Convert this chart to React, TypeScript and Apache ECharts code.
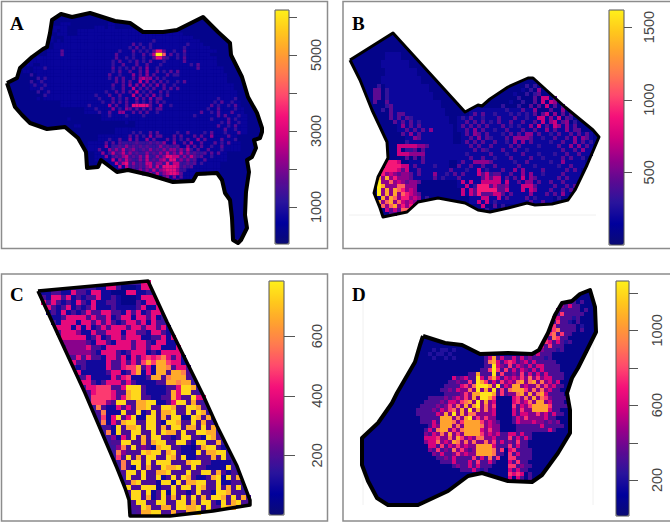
import React, { useEffect, useRef } from "react";
import * as echarts from "echarts";

const RAMP = ["#0b0b74", "#00009c", "#2a149c", "#5c0a92", "#96008a", "#d0007e", "#f4107a", "#ff4a6c", "#ff7a50", "#ffa030", "#ffc81c", "#fff01a"];

const OUTLINE_A = [[7,83],[17,78],[20,68],[32,57],[43,49],[47,47],[50,33],[52,20],[61,14],[72,17],[90,13],[115,21],[130,23],[143,32],[163,32],[177,30],[203,17],[218,32],[230,43],[231,55],[242,77],[248,97],[257,113],[262,128],[262,132],[260,138],[254,140],[256,148],[252,157],[247,160],[249,172],[246,192],[245,215],[247,228],[241,240],[238,243],[233,240],[232,218],[230,200],[225,193],[222,180],[217,173],[197,174],[193,181],[173,182],[150,175],[128,170],[117,172],[101,160],[98,167],[87,168],[86,152],[78,138],[65,127],[47,129],[30,123],[22,115],[15,107]];
const OUTLINE_B = [[350,60],[393,33],[465,112],[478,105],[482,106],[490,99],[508,87],[528,78],[533,78],[565,107],[593,130],[599,137],[587,165],[575,190],[568,200],[552,204],[535,205],[527,203],[508,208],[490,212],[478,210],[465,203],[438,198],[418,202],[407,212],[383,217],[380,208],[374,193],[378,177],[388,158],[387,142],[380,127],[372,110],[360,80]];
const OUTLINE_C = [[38,291],[148,281],[167,322],[203,395],[217,426],[237,466],[250,500],[250,505],[213,511],[170,516],[130,516],[129,500],[125,488],[117,468],[85,393]];
const OUTLINE_D = [[423,336],[445,343],[462,345],[480,354],[508,353],[532,354],[539,350],[548,333],[555,315],[562,303],[572,301],[580,294],[590,290],[595,307],[596,332],[588,348],[578,368],[572,378],[567,393],[570,410],[570,433],[558,453],[542,475],[532,482],[508,481],[482,473],[468,476],[448,491],[418,505],[388,505],[377,498],[368,481],[362,465],[362,438],[378,423],[392,403],[397,393],[415,362],[420,345]];

const LEVELS_A = [0, 700, 1300, 1700, 2200, 2700, 3200, 4000, 5000, 6100];
const LEVELS_B = [0, 190, 320, 440, 570, 720, 900, 1100, 1350, 1600];
const LEVELS_C = [0, 40, 100, 190, 270, 400, 480, 580, 660, 740];
const LEVELS_D = [0, 110, 210, 310, 430, 600, 760, 900, 1040, 1230];

const TICKS_A = [1000, 2000, 3000, 4000, 5000, 6000];
const LABELS_A = [1000, 3000, 5000];
const TICKS_B = [500, 1000, 1500];
const LABELS_B = [500, 1000, 1500];
const TICKS_C = [200, 400, 600];
const LABELS_C = [200, 400, 600];
const TICKS_D = [200, 400, 600, 800, 1000, 1200];
const LABELS_D = [200, 600, 1000];

// broad patches: first row, last row, first column, last column, level
const PATCHES_A = [[5,6,21,50,1],[7,8,17,54,1],[9,10,14,57,1],[11,12,12,59,1],[13,15,10,61,1],[16,17,8,63,1],[18,20,9,64,1],[21,22,7,66,1],[23,25,11,67,1],[26,27,16,68,1],[28,29,23,69,1],[30,31,28,70,1],[32,33,38,70,1],[34,35,32,70,1],[36,37,27,67,1],[38,40,24,68,1],[41,43,26,64,1],[44,46,30,62,1],[47,49,40,58,1],
[38,38,34,46,2],[39,39,31,50,2],[40,40,30,54,2],[41,41,30,57,2],[42,42,31,56,2],[43,43,33,55,2],[44,44,33,54,2],[45,45,35,53,2],[46,46,38,52,2],[47,47,42,51,2]];
const PATCHES_B = [[5,6,9,12,1],[7,8,8,14,1],[9,10,9,16,1],[11,12,8,17,1],[13,14,9,19,1],[15,16,10,20,1],[17,18,10,22,1],[19,20,11,23,1],[21,22,11,24,1],[23,24,12,25,1],[25,27,14,25,1],[28,31,18,27,1],[32,36,15,24,1],
[19,20,30,46,1],[21,22,27,52,1],[23,24,27,56,1],[25,27,28,60,1],[28,30,28,60,1],[31,33,27,58,1],[34,36,25,57,1],[37,38,27,56,1],[39,40,28,54,1],[41,42,30,50,1],
[33,34,8,13,3],[35,36,7,15,4],[37,40,7,16,4],[41,43,8,17,4],[44,45,10,16,3],[35,37,33,37,3],[38,40,31,38,3]];
const PATCHES_C: number[][] = [];
const PATCHES_D = [[4,4,49,53,3],[5,6,48,54,3],[7,7,47,53,3],[8,8,47,52,3],[9,9,46,53,3],[10,10,46,52,3],[11,11,45,52,3],[12,12,44,51,3],[13,13,44,52,3],[14,15,43,50,3],[16,16,42,47,3],
[17,17,31,47,3],[18,18,31,48,3],[19,19,31,49,3],[20,20,30,49,3],[21,21,27,50,3],[22,22,23,50,3],[23,23,22,49,3],[24,24,21,50,3],[25,25,20,49,3],[26,26,21,50,3],
[27,27,18,33,3],[27,27,38,51,3],[28,28,16,33,3],[28,28,38,50,3],[29,29,15,33,3],[29,29,38,51,3],[30,30,14,33,3],[30,30,38,49,3],[31,31,14,33,3],[31,31,38,50,3],[32,32,15,33,3],[32,32,38,48,3],[33,33,15,33,3],[33,33,38,49,3],[34,34,17,34,3],[34,34,39,50,3],[35,35,16,33,3],[35,35,39,48,3],
[36,37,16,42,3],[38,38,16,41,3],[39,39,17,41,3],[40,40,17,35,3],[40,40,37,42,3],[41,41,18,35,3],[41,41,37,42,3],[42,42,19,34,3],[42,42,37,42,3],[43,43,20,33,3],[43,43,37,41,3],[44,44,23,32,3],[44,44,37,42,3],[45,45,25,31,3],[45,45,37,41,3],
[24,24,27,33,4],[25,26,25,33,4],[27,28,23,33,4],[29,30,21,33,4],[31,33,20,33,4],[34,36,19,34,4],[37,38,20,33,4],[39,41,23,32,4],[22,24,36,47,4],[25,26,37,46,4],[27,30,40,47,4],[31,33,40,45,4]];

const ROWS_A = [
"","","",
"16:111 30:11",
"14:1111 26:111.11",
"13:11.11 28:1111",
"15:111 24:111 40:111 50:11",
"12:11 20:11.1 34:1111 44:11 52:111",
"13:1.1 24:111 36:11 43:2 47:111 55:11",
"11:11 20:1.1 29:11 37:3.2 42:2 45:11 53:2",
"9:11 22:11 31:1 36:2.3 40:2.2 46:1.1 52:2 58:11",
"16:3 24:11 33:2 37:3.2.2 43:3663 49:2 52:3 60:11",
"16:3 20:11 32:3 37:2 40:3.2 43:5997 48:3.2 52:2 57:11",
"9:11 25:1 32:3 35:2.2 40:2 43:3663 47:2 50:2.3 59:1",
"7:111 14:11 31:2.3 36:2.3.2 42:3 46:2 52:3 56:11",
"6:11 18:11 31:2 34:3 38:3..3 45:2 54:2.3 60:11",
"11:2 22:1 31:3.2 35:2.3.3 41:4 44:2 56:3 58:11",
"5:11 31:2.3 36:3 39:3.4 44:3.2 48:3.3 60:111",
"7:2 16:11 30:3 33:2 37:4.3 41:4 43:3 47:3.2 50:2",
"9:2.2 24:1 30:2.3 34:3 37:3.4 40:544 44:3 46:2 62:11",
"7:2 10:2 28:1 32:3.3 36:3 39:5.4 43:3.3 47:2 50:2.3",
"8:2 11:2 31:3 34:3.4 38:4.4.3 44:4 46:3 49:2 64:1",
"10:2 20:1 31:2 34:3 37:5 39:3.3 43:3 46:3.3 50:3",
"9:2 12:2 29:2 32:3.3 36:3.5 40:2 42:3 45:3 47:2 66:1",
"11:2 26:2 30:3 33:3 37:5.3 41:3.4 45:2.3",
"9:1 27:2 31:3.2.3 38:4 40:3.4.3 45:3 62:2 67:2",
"22:1 28:2 31:3.3.3 38:3 40:2.3 44:3.2 61:2.3 66:2",
"24:2 30:4.3 35:3 37:66666 42:3 45:4 48:2 60:3.2 65:2.3",
"26:2 31:4.2.4 36:3.3 40:3.3.3 45:3 59:2 62:3 67:2",
"27:2 30:3 33:44 37:3.3.3 44:2 57:3 60:2.3 66:3",
"30:2 35:2 40:2 55:2 62:3.3 68:2",
"18:1 45:1 60:2 65:3.2",
"35:1 50:11 63:2.3 68:2",
"20:11 55:1 62:3 65:2.3",
"40:11 64:3 67:2",
"37:2.2 42:3.3 50:2 53:3 58:2.3 64:2 68:3",
"36:3.3 40:2.4.3 45:3 49:3.3 55:3.3 60:4 65:3",
"30:2 33:3 36:4.3 41:4.3 47:3 49:3.2 53:3 56:4.3 63:3 67:2",
"29:3.3 33:3 38:3 42:3 44:3.4 49:4 52:3.4 57:3 61:3.2 65:3",
"29:4 31:2.3 35:4.3.3 41:3 45:4.3 50:3 53:4 55:3.3 60:2 63:3",
"27:3 30:4.4 34:5.3 37:4 40:3.4 44:3.4.4 49:4.4 53:5 56:3 59:3 63:2",
"28:4 31:5.3 34:5.4 38:3 41:4.3 45:4 47:5.4 51:5 53:4.3 58:3.3 62:3",
"29:4 32:3.4 35:5.3.4 41:5 44:4.4 47:6655 52:4.5 55:3.3 60:2",
"31:5 33:4.5 36:3 39:4.5 43:3.4 46:5.6 49:6 51:4 53:4.3 58:3",
"32:5.5 35:6.4 39:3.5 42:5.4 45:4 47:6.5 50:5 53:3.3 57:2",
"33:5 35:5 37:3.3.4 42:5.5 46:6666 50:5.3 54:3",
"37:3 39:4.4 43:5.4 46:5666 50:4 52:2",
"40:3 42:4 44:5.4 47:5665 51:3",
"44:3.3 47:4.4.3",
"48:2 50:3",
"","","","","","","","","","","","","","","","","",
"68:5",
];

const ROWS_B = [
"","","","","",
"10:1.1",
"9:111",
"8:1.11 12:1",
"9:1111",
"10:11.11",
"9:111.1 14:1",
"9:1.111 15:1",
"8:11 11:111 15:11",
"7:2.1 10:111 14:111 44:2 46:2",
"6:33 9:2 11:11 15:1.1 43:1 45:2 47:4",
"6:33 9:2 11:1.1 16:11 41:1 44:2.2 47:3",
"6:33 9:2.1 13:11 17:1 42:2 46:3 48:55 51:3",
"6:3 9:3 11:111 16:11 40:1 43:2 46:3 48:5.5 51:4 53:2",
"9:2 10:3 12:1 14:11 18:1 38:2 42:2 45:3.3 49:5 51:3.3",
"8:2 10:3 13:1.1 17:11 36:1 39:2 43:3 46:4 50:3 53:4.3",
"10:3.3 13:3 15:1 18:1 31:3.3 36:2 40:2.2 44:2 46:3.3 49:5.4 53:3.3",
"10:3 12:3.3 15:2 28:2 30:3 33:2 37:3 41:3 44:2 47:55 50:4 52:5.3 55:2",
"11:3 13:3 15:3 17:2 29:3 31:3.3 35:2.3 40:3 43:3 46:3 48:5.4 51:5.3 54:4 56:2",
"13:4 15:3 17:3 28:3.3 32:3 34:3 38:3.2 42:2 45:4 47:5 49:3.5 52:4.4 56:3",
"14:3 16:3 18:3.4 29:3 31:4 33:3 36:2 39:3 43:3 46:3 49:4 51:3 54:4.3 57:3",
"13:3 15:4 17:3 29:3.4 32:3 34:3 38:2 40:3 42:3 44:44 47:3 50:2 52:3 55:3.3 59:3",
"16:43 30:3 32:4.3 35:2 39:3 41:4444 45:3 48:2 51:3 54:3 56:4.4 59:3",
"14:2 29:3.3.3 36:3 39:2 41:4.4 45:3 50:2 53:3 56:4 58:3 60:2",
"12:55555 17:44 19:3 30:3 32:3 35:3 40:3 42:3 47:2 52:3 55:4.4 59:3",
"12:5 14:2 15:2 16:3 18:3 20:1 31:3.3 34:2 38:3 41:3 44:2 53:3 56:3 58:4",
"12:555 15:44 17:44 22:1 29:2 35:3 39:2 43:3 47:2 51:2 54:3 57:3",
"14:3 16:3 18:3 21:1 30:3 33:3 36:2 40:3 45:3 48:2 53:3.3 58:2",
"9:666 12:5 18:3 28:3 31:4444 35:3 41:2 44:3 50:2 53:4",
"9:6666 13:55 16:3 21:2 27:3 30:3 33:3 36:3 42:3 46:2 52:2 55:3",
"8:66 10:66 12:5 14:5 17:3 25:3 29:2 32:5 34:2 38:3 41:4 43:4 48:3 54:3 56:3",
"8:6 10:5 12:3 15:3 17:3 21:4 24:2 26:3.3 32:5.5 35:2 40:3 43:4.4 48:2 53:3",
"7:8 9:8.6 13:4 15:3 21:3 23:2 27:3 34:5.5 37:5 39:3.3 43:5.4 46:3 52:3.3",
"7:9 10:7 12:5 14:3 17:3 28:5.5 33:5555 37:5.5 42:3 44:44 47:3 50:3 53:3",
"7:98 12:77 15:4 29:5 31:2 32:666 36:5 39:4 43:5555 46:3 51:3 54:3.3",
"7:9 9:8 11:876 15:5 28:5 30:5 32:66666 37:3 39:5 43:5.5 46:4 50:3 53:3.3",
"7:9 9:8 11:8.7 14:65 17:3 28:5 30:5 32:6 34:3 36:55 40:3 45:4 49:3 51:3 53:4",
"8:8 10:87 13:66 16:5 19:2 33:55 37:5 39:3 44:3 46:2 52:2",
"7:8 9:78 12:75 15:5 18:4 32:5.5 36:2 45:3 48:3",
"8:7 10:78 13:6 15:6 17:4 33:5 36:3 38:2",
"9:5 11:5 13:77 16:5 18:3 34:2",
"10:3 12:8888 16:53",
"12:553",
];

const ROWS_C = [
"21:55",
"12:2255 17:111 20:2 21:55",
"1:223322533255221115522",
"1:325535232335223211125552",
"1:535323253252233211132552",
"2:53235232352223222235225",
"2:23252323533553325352355",
"3:2235555353352355255352",
"3:3255525535353235535253",
"4:55525252353555355355352",
"4:35554225335552553325532",
"5:555552352355355522335252",
"5:444443255325553553255225",
"6:44445332555553553552225",
"6:44444325553235552325555",
"7:35353325535253565675352",
"7:53322225335353686886552",
"8:23222253356683528873553",
"8:52222235523682528838873",
"9:3522225356222388378883",
"9:5532355535322223388788",
"10:5566633599932222335998",
"10:3566653389932222385993",
"11:66665358993322338533955",
"11:6664399338899223599383",
"12:7322535388933998339983",
"12:3722293392393889339398",
"13:6259359229938399229838",
"13:7253899339932998339383",
"14:3293889399383993883938",
"14:7293399339398839339988",
"15:4253938399332399332983",
"15:3399338389933993299338",
"16:4739343289933221389932",
"16:7433398993893222938899",
"16:6393839933983922333839",
"17:7399393999333899332222",
"17:7329383398893393322229",
"17:39939338893339339938323",
"18:93393392393983223892938",
"18:38933329929388993392233",
"18:93399923393993983393839",
"18:39939239293323933299833",
"19:993823938393938399839383",
"19:399339933993839932938933",
"19:339833883998893933988393",
"20:38899338338893",
];

const ROWS_D = [
"","","",
"53:3.3",
"50:4 52:5.3 54:3",
"49:4.3 52:3.3.3",
"48:5 50:6.3 53:3 55:3",
"48:65 51:3.2 54:3",
"47:5.6 50:3 52:2.3",
"46:3 48:6.3 51:3 53:3 55:2",
"46:5 48:67 51:3.3 55:3",
"45:5.6 48:7 50:6 52:3",
"44:6 46:5.7 49:6 51:3",
"44:5 46:65 49:5 51:2",
"43:5 45:5.6 48:3 50:3",
"18:2.2 21:2 23:2 42:53 45:4 47:3 49:2",
"17:2.2 20:2.2 42:5 44:5 46:3",
"18:2 21:2 23:2 32:58 35:5 38:5 40:5 42:4 44:3 46:2",
"32:785 36:565.4 41:5 43:5 45:3",
"33:954 37:6 39:54 42:5.5 45:5.3",
"32:696 36:6 38:5.5 41:4 43:5.5 46:3 48:3",
"29:8 33:9 35:6 38:4 40:6 42:5 44:5 46:5 48:3",
"23:5 25:45 29:95 32:685 36:5.5 40:6 42:7 44:6 46:55 49:3",
"22:3 24:4 27:6 29:986 33:5 35:6 37:5 39:78 42:78 45:7 47:5 49:5",
"23:3 25:56 28:79998 34:9 36:5 38:88 41:5 44:7 46:6 48:5",
"22:4 24:5 27:7 29:9 31:8 33:9 35:6 37:78886 43:7 45:7 47:5",
"24:3 26:6 28:889998 35:6 39:78 42:8 44:785",
"17:3 21:4 24:5 26:6 28:8 30:998 33:6 38:56 41:7 43:8 45:76",
"16:3.3 20:4.5 23:5.6 26:78 29:9 31:8 33:5 38:5 39:6.5 42:7 44:88 47:5",
"15:3 17:3 19:4 22:6 24:7 26:8.8 29:9 31:7 33:6 38:6 40:5 42:68888 47:6",
"14:3.3 18:4 20:5.6 23:7 25:8 27:9 29:8 31:7 33:5 38:5 40:6 43:8888 47:5",
"14:3 16:3 19:5 21:8 23:9 25:8 27:77 33:5 38:5.5 41:5 44:6 46:5 48:5",
"15:3 18:3 20:888 24:7 26:89 29:6 31:6 33:4 39:5 41:6 46:5",
"16:3 18:5 20:888 23:7 25:68888 30:6 32:5 34:3 39:5 43:5 45:4 47:4 49:4",
"18:5 20:888 24:7 26:8888 30:7 32:5 40:3 45:5 48:3",
"17:5 19:788 23:6 25:78888 30:5 32:6 45:3 47:5",
"16:4 18:5 20:7 22:8 24:6 26:8888 30:6 32:5 34:5 37:55.5",
"16:555 19:6 22:7 24:86 27:5 29:77 33:5 37:6 39:5.5",
"16:455 19:7 21:5 23:87 26:7 28:7 31:7 33:6 35:5 37:4 39:6",
"17:55 20:6 22:5 24:6 26:5 29:8888 33:5 35:3 37:6 39:5",
"17:4 19:6 21:4 23:7 25:6 27:3 29:8888 33:7 35:6 37:56 40:3",
"18:4 20:5 22:3 24:6 26:5 29:8888 33:7 35:3 37:6 39:5 42:3",
"19:3 21:4 23:5 26:3 28:6 30:5 32:7 34:6 37:663 41:3",
"20:3 23:5 25:3 27:5 29:6 32:5 37:5 39:6 41:3",
"24:4 27:5 29:5 31:3 37:66 40:4 42:3",
"25:3 28:5 30:2 37:5 39:5 41:3",
"37:6565 42:3",
"37:5 39:53 42:3",
];

const PANELS = [
  { label: "A", rows: ROWS_A, patches: PATCHES_A, levels: LEVELS_A, outline: OUTLINE_A, ticks: TICKS_A, labels: LABELS_A, fill: "#04048c", x0: 6, y0: 12, cell: 3.4, cols: 77, nrows: 69, vmin: 26, vmax: 6184, box: [1.5, 1.5, 326, 247], bar: [275, 10, 14, 234], tick: 8, lx: 10, ly: 33, margin: 19, lw: 4 },
  { label: "B", rows: ROWS_B, patches: PATCHES_B, levels: LEVELS_B, outline: OUTLINE_B, ticks: TICKS_B, labels: LABELS_B, fill: "#04048a", x0: 349, y0: 32, cell: 4, cols: 63, nrows: 47, vmin: 0, vmax: 1617, box: [343, 1.5, 330, 247], bar: [609, 10, 15, 235], tick: 8, lx: 352, ly: 33, margin: 17, lw: 3 },
  { label: "C", rows: ROWS_C, patches: PATCHES_C, levels: LEVELS_C, outline: OUTLINE_C, ticks: TICKS_C, labels: LABELS_C, fill: "#3a149c", x0: 36, y0: 280, cell: 5, cols: 44, nrows: 47, vmin: 0, vmax: 785, box: [1.5, 274, 326, 247], bar: [269, 281, 15, 234], tick: 11, lx: 10, ly: 304, margin: 25, lw: 3.5 },
  { label: "D", rows: ROWS_D, patches: PATCHES_D, levels: LEVELS_D, outline: OUTLINE_D, ticks: TICKS_D, labels: LABELS_D, fill: "#05058a", x0: 360, y0: 288, cell: 4, cols: 60, nrows: 57, vmin: 7, vmax: 1264, box: [343, 274, 330, 247], bar: [616, 281, 13, 235], tick: 9, lx: 352, ly: 304, margin: 20, lw: 4 },
];

function inside(pt: number[], poly: number[][]) {
  let c = false;
  for (let i = 0, j = poly.length - 1; i < poly.length; j = i++) {
    const a = poly[i], b = poly[j];
    if (a[1] > pt[1] !== b[1] > pt[1] && pt[0] < ((b[0] - a[0]) * (pt[1] - a[1])) / (b[1] - a[1]) + a[0]) c = !c;
  }
  return c;
}

function cellsOf(p: (typeof PANELS)[number]) {
  const out: number[][] = [];
  const put = (col: number, r: number, level: number) => {
    const x = p.x0 + col * p.cell;
    const y = p.y0 + r * p.cell;
    if (inside([x + p.cell / 2, y + p.cell / 2], p.outline)) out.push([x, y, p.levels[level]]);
  };
  p.patches.forEach(([r0, r1, c0, c1, level]) => {
    for (let r = r0; r <= r1; r++) for (let c = c0; c <= c1; c++) put(c, r, level);
  });
  p.rows.forEach((row, r) => {
    if (!row) return;
    row.split(" ").forEach((seg) => {
      const [start, chars] = seg.split(":");
      [...chars].forEach((ch, i) => {
        if (ch !== ".") put(Number(start) + i, r, Number(ch));
      });
    });
  });
  return out;
}

function buildOption() {
  const grid: any[] = [], xAxis: any[] = [], yAxis: any[] = [], series: any[] = [], visualMap: any[] = [], graphic: any[] = [];
  PANELS.forEach((p, i) => {
    const w = p.cols * p.cell, h = p.nrows * p.cell;
    grid.push({ left: p.x0, top: p.y0, width: w, height: h });
    xAxis.push({ type: "value", gridIndex: i, min: p.x0, max: p.x0 + w, show: false });
    yAxis.push({ type: "value", gridIndex: i, min: p.y0, max: p.y0 + h, inverse: true, show: false });
    series.push({
      type: "custom", xAxisIndex: i, yAxisIndex: i, silent: true, clip: false, z: 2,
      data: p.outline,
      renderItem: (params: any, api: any) =>
        params.dataIndex !== 0 ? null : {
          type: "polygon",
          shape: { points: p.outline.map((q) => api.coord(q)) },
          style: { fill: p.fill },
        },
    });
    const cellSeries = series.length;
    series.push({
      type: "custom", xAxisIndex: i, yAxisIndex: i, silent: true, clip: false, z: 3,
      dimensions: ["x", "y", "value"],
      encode: { x: 0, y: 1 },
      data: cellsOf(p),
      renderItem: (_: any, api: any) => {
        const a = api.coord([api.value(0), api.value(1)]);
        const b = api.coord([api.value(0) + p.cell, api.value(1) + p.cell]);
        return {
          type: "rect",
          shape: { x: a[0], y: a[1], width: b[0] - a[0], height: b[1] - a[1] },
          style: { fill: api.visual("color") },
        };
      },
    });
    series.push({
      type: "line", xAxisIndex: i, yAxisIndex: i, silent: true, z: 4, showSymbol: false, clip: false,
      data: [...p.outline, p.outline[0]],
      lineStyle: { color: "#000", width: p.lw, join: "round" },
    });
    visualMap.push({
      type: "continuous", seriesIndex: cellSeries, dimension: 2, min: p.vmin, max: p.vmax, show: true,
      left: p.bar[0], top: p.bar[1], itemWidth: p.bar[2], itemHeight: p.bar[3], padding: 0, calculable: false, text: null,
      inRange: { color: RAMP },
    });
    graphic.push({ type: "rect", z: -1, silent: true, shape: { x: p.box[0], y: p.box[1], width: p.box[2], height: p.box[3] }, style: { fill: "none", stroke: "#8c8c8c", lineWidth: 1.5 } });
    graphic.push({ type: "rect", z: 100, silent: true, shape: { x: p.bar[0], y: p.bar[1], width: p.bar[2], height: p.bar[3] }, style: { fill: "none", stroke: "#555", lineWidth: 1 } });
    graphic.push({ type: "text", z: 100, silent: true, x: p.lx, y: p.ly, style: { text: p.label, fill: "#000", fontFamily: "Liberation Serif", fontWeight: "bold", fontSize: 19, verticalAlign: "bottom" } });
  });
  graphic.push({ type: "line", z: -1, silent: true, shape: { x1: 349, y1: 215, x2: 596, y2: 215 }, style: { stroke: "#f0f0f0", lineWidth: 1 } });
  graphic.push({ type: "line", z: -1, silent: true, shape: { x1: 363, y1: 300, x2: 363, y2: 505 }, style: { stroke: "#f0f0f0", lineWidth: 1 } });
  graphic.push({ type: "line", z: -1, silent: true, shape: { x1: 593, y1: 300, x2: 593, y2: 505 }, style: { stroke: "#f0f0f0", lineWidth: 1 } });
  PANELS.forEach((p, i) => {
    const g = PANELS.length + i;
    grid.push({ left: p.bar[0], top: p.bar[1], width: p.bar[2], height: p.bar[3] });
    xAxis.push({ type: "value", gridIndex: g, min: 0, max: 1, show: false });
    yAxis.push({
      type: "value", gridIndex: g, position: "right", min: p.vmin, max: p.vmax, splitLine: { show: false }, axisLine: { show: false },
      axisTick: { show: false },
      axisLabel: { show: true, rotate: 90, margin: p.margin, fontFamily: "Liberation Sans, Arial, sans-serif", fontSize: 14.5, color: "#444", customValues: p.labels, formatter: (v: number) => String(v) },
    });
    series.push({
      type: "custom", xAxisIndex: g, yAxisIndex: g, silent: true, clip: false, z: 5,
      data: p.ticks.map((v) => [1, v]),
      renderItem: (_: any, api: any) => {
        const a = api.coord([1, api.value(1)]);
        return {
          type: "line",
          shape: { x1: a[0], y1: Math.round(a[1]) + 0.5, x2: a[0] + p.tick, y2: Math.round(a[1]) + 0.5 },
          style: { stroke: "#555", lineWidth: 1 },
        };
      },
    });
  });
  return { animation: false, backgroundColor: "#fff", grid, xAxis, yAxis, series, visualMap, graphic };
}

export default function App() {
  const ref = useRef<HTMLDivElement>(null);
  useEffect(() => {
    const chart = echarts.init(ref.current!, undefined, { renderer: "svg" });
    chart.setOption(buildOption() as any);
    return () => chart.dispose();
  }, []);
  return <div ref={ref} style={{ position: "absolute", left: 0, top: 0, width: 670, height: 523 }} />;
}
